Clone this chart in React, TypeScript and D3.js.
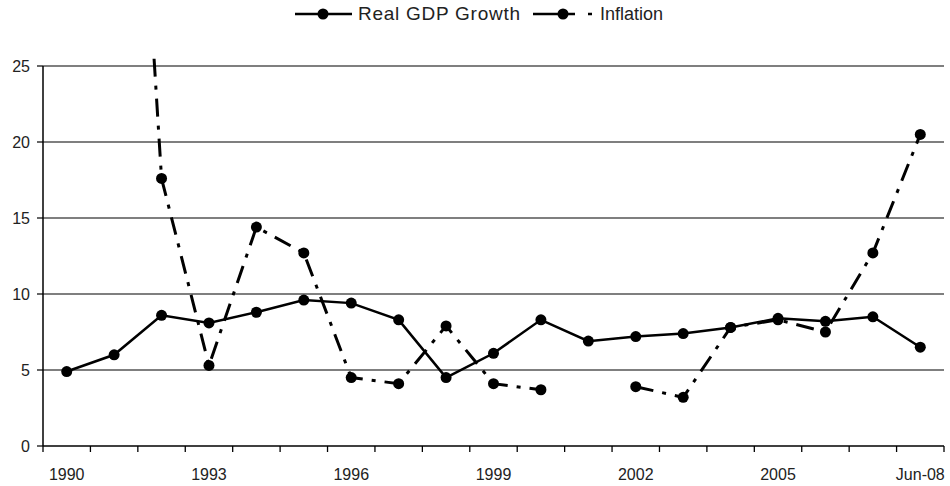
import React from "react";
import * as d3 from "d3";

// categories on the x axis (one per year, last one is mid-2008)
const categories = [
  "1990", "1991", "1992", "1993", "1994", "1995", "1996", "1997", "1998", "1999",
  "2000", "2001", "2002", "2003", "2004", "2005", "2006", "2007", "Jun-08",
];

// Real GDP growth, %
const gdpGrowth = [4.9, 6.0, 8.6, 8.1, 8.8, 9.6, 9.4, 8.3, 4.5, 6.1, 8.3, 6.9, 7.2, 7.4, 7.8, 8.4, 8.2, 8.5, 6.5];

// Inflation, % (null = no point shown)
const inflation = [null, 67.5, 17.6, 5.3, 14.4, 12.7, 4.5, 4.1, 7.9, 4.1, 3.7, null, 3.9, 3.2, 7.8, 8.3, 7.5, 12.7, 20.5];

const yTicks = [0, 5, 10, 15, 20, 25];
const xLabelEvery = 3; // 1990, 1993, 1996 ... Jun-08

const WIDTH = 950;
const HEIGHT = 486;
const FONT = "'Liberation Sans', Arial, sans-serif";

export default function App() {
  const left = 43;
  const right = 944;
  const top = 66;
  const bottom = 446;

  const x = d3.scaleBand<string>().domain(categories).range([left, right]).padding(0);
  const y = d3.scaleLinear().domain([0, 25]).range([bottom, top]);
  const cx = (c: string) => (x(c) as number) + x.bandwidth() / 2;

  const gdpLine = d3
    .line<number>()
    .x((_, i) => cx(categories[i]))
    .y((d) => y(d));

  const inflLine = d3
    .line<number | null>()
    .defined((d) => d != null)
    .x((_, i) => cx(categories[i]))
    .y((d) => y(d as number));

  const boundaries = categories.map((c) => x(c) as number).concat([right]);

  return (
    <svg
      width={WIDTH}
      height={HEIGHT}
      style={{ position: "absolute", left: 0, top: 0, background: "#fff" }}
      fontFamily={FONT}
    >
      <defs>
        <clipPath id="plotClip">
          <rect x={left} y={56} width={right - left} height={bottom - 56} />
        </clipPath>
      </defs>

      {/* gridlines + y labels */}
      {yTicks.map((t) => (
        <g key={t}>
          {t > 0 && <line x1={left} x2={right} y1={y(t)} y2={y(t)} stroke="#000" strokeWidth={1.2} />}
          <line x1={left - 6} x2={left} y1={y(t)} y2={y(t)} stroke="#000" strokeWidth={1.2} />
          <text x={30} y={y(t) + 6} textAnchor="end" fontSize={16} fill="#222">
            {t}
          </text>
        </g>
      ))}

      {/* axes */}
      <line x1={left} x2={left} y1={top} y2={bottom} stroke="#000" strokeWidth={1.5} />
      <line x1={left} x2={right} y1={bottom} y2={bottom} stroke="#000" strokeWidth={1.5} />
      {boundaries.map((b, i) => (
        <line key={i} x1={b} x2={b} y1={bottom} y2={bottom + 6} stroke="#000" strokeWidth={1.3} />
      ))}
      {categories.map((c, i) =>
        i % xLabelEvery === 0 ? (
          <text key={c} x={cx(c)} y={480} textAnchor="middle" fontSize={16} fill="#222">
            {c}
          </text>
        ) : null
      )}

      {/* series */}
      <g clipPath="url(#plotClip)">
        <path d={inflLine(inflation) || ""} fill="none" stroke="#000" strokeWidth={3} strokeDasharray="18,9,4,9" />
        <path d={gdpLine(gdpGrowth) || ""} fill="none" stroke="#000" strokeWidth={2.5} />
        {inflation.map((v, i) =>
          v != null && v <= 25 ? <circle key={"i" + i} cx={cx(categories[i])} cy={y(v)} r={5.5} fill="#000" /> : null
        )}
        {gdpGrowth.map((v, i) => (
          <circle key={"g" + i} cx={cx(categories[i])} cy={y(v)} r={5.5} fill="#000" />
        ))}
      </g>

      {/* legend */}
      <g>
        <line x1={295} x2={352} y1={14} y2={14} stroke="#000" strokeWidth={2.5} />
        <circle cx={323} cy={14} r={5.5} fill="#000" />
        <text x={358} y={20} fontSize={19} fill="#222" textLength={162} lengthAdjust="spacing">
          Real GDP Growth
        </text>
        <line x1={533} x2={592} y1={14} y2={14} stroke="#000" strokeWidth={2.5} strokeDasharray="42,13,4" />
        <circle cx={563} cy={14} r={5.5} fill="#000" />
        <text x={600} y={20} fontSize={18} fill="#222">
          Inflation
        </text>
      </g>
    </svg>
  );
}
